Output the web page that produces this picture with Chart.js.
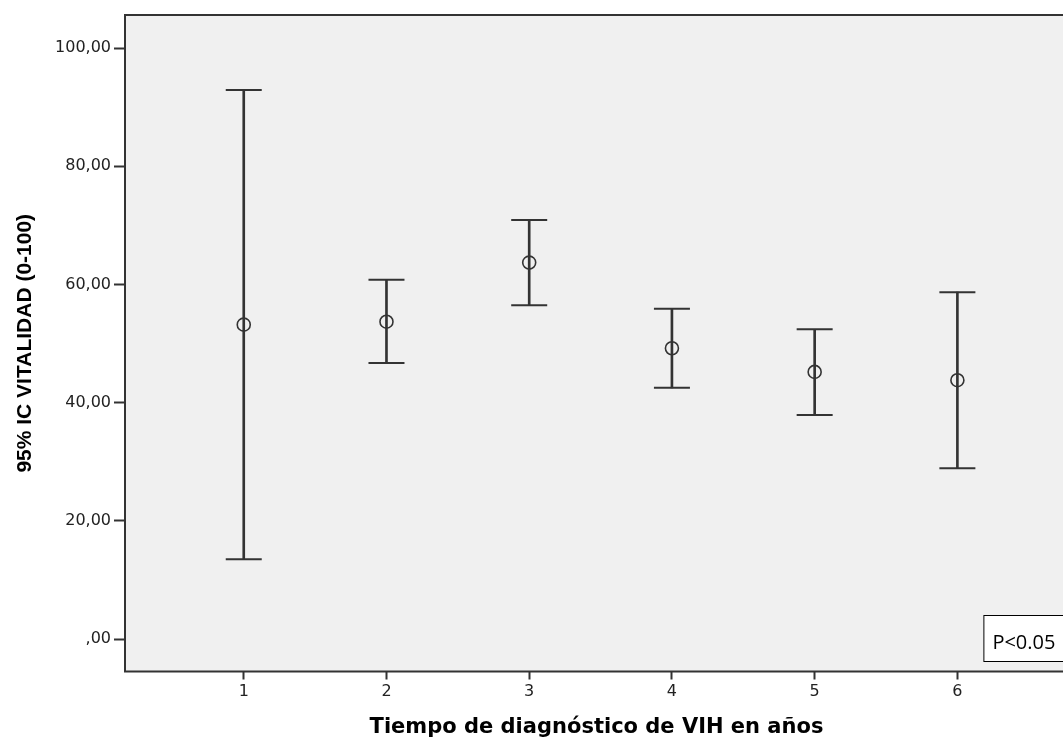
<!DOCTYPE html>
<html>
<head>
<meta charset="utf-8">
<script src="https://cdn.jsdelivr.net/npm/chart.js@4/dist/chart.umd.min.js"></script>
<style>
  html, body { margin: 0; padding: 0; background: #fff; overflow: hidden; }
  #wrap { width: 1068px; height: 738px; position: relative; }
</style>
</head>
<body>
<div id="wrap"><canvas id="chart"></canvas></div>
<script>
// Tiempo de diagnóstico (años) and 95% IC of VITALIDAD
const years = [1, 2, 3, 4, 5, 6];
const means = [53.2, 53.7, 63.7, 49.2, 45.2, 43.8];
const lower = [13.5, 46.7, 56.5, 42.5, 37.9, 28.9];
const upper = [92.9, 60.8, 70.9, 55.9, 52.4, 58.7];

const yTicks = [0, 20, 40, 60, 80, 100];
const yTickLabels = [',00', '20,00', '40,00', '60,00', '80,00', '100,00'];
const xTickLabels = ['1', '2', '3', '4', '5', '6'];

const ink = '#333333';

// no extra label padding, the plot box is fixed
const noPad = s => {
  s.paddingLeft = 0; s.paddingRight = 0; s.paddingTop = 0; s.paddingBottom = 0;
};

// grey plot area with frame (right side runs past the window edge)
const plotFrame = {
  id: 'plotFrame',
  beforeDatasetsDraw(chart) {
    const { ctx, chartArea: a } = chart;
    ctx.save();
    ctx.fillStyle = '#f0f0f0';
    ctx.fillRect(a.left, a.top, a.right - a.left, a.bottom - a.top);
    ctx.strokeStyle = ink;
    ctx.lineWidth = 2;
    ctx.strokeRect(a.left, a.top, a.right - a.left, a.bottom - a.top);
    ctx.restore();
  }
};

// "P<0.05" note box in the lower right corner
const pNote = {
  id: 'pNote',
  afterDraw(chart) {
    const { ctx, chartArea: a } = chart;
    const x = chart.scales.x.getPixelForValue(6) + 26, y = a.bottom - 56.5;
    ctx.save();
    ctx.fillStyle = '#ffffff';
    ctx.fillRect(x, y, 100, 47);
    ctx.strokeStyle = '#000';
    ctx.lineWidth = 1;
    ctx.strokeRect(x + 0.5, y + 0.5, 100, 46);
    ctx.fillStyle = '#000';
    ctx.font = '20px "Open Sans"';
    ctx.textBaseline = 'alphabetic';
    ctx.fillText('P<0.05', x + 9, y + 34);
    ctx.restore();
  }
};

new Chart(document.getElementById('chart'), {
  type: 'bar',
  data: {
    datasets: [
      {
        // whiskers
        type: 'bar',
        data: years.map((x, i) => ({ x: x, y: [lower[i], upper[i]] })),
        backgroundColor: ink,
        borderWidth: 0,
        barThickness: 2,
        order: 3
      },
      {
        // caps
        type: 'scatter',
        data: years.flatMap((x, i) => [{ x: x, y: lower[i] }, { x: x, y: upper[i] }]),
        pointStyle: 'line',
        radius: 18,
        borderWidth: 2,
        borderColor: ink,
        order: 2
      },
      {
        // means
        type: 'scatter',
        data: years.map((x, i) => ({ x: x, y: means[i] })),
        pointStyle: 'circle',
        radius: 6.5,
        borderWidth: 1.6,
        borderColor: ink,
        backgroundColor: 'rgba(0,0,0,0)',
        order: 1
      }
    ]
  },
  options: {
    responsive: true,
    maintainAspectRatio: false,
    animation: false,
    layout: { autoPadding: false, padding: { top: 15, right: 0, left: 0, bottom: 0 } },
    plugins: {
      legend: { display: false },
      tooltip: { enabled: false }
    },
    scales: {
      x: {
        type: 'linear',
        min: 0.168,
        max: 6.775,
        offset: false,
        afterBuildTicks: s => { s.ticks = years.map(v => ({ value: v })); },
        afterFit: s => { s.height = 66.5; noPad(s); },
        grid: { drawOnChartArea: false, offset: false, tickLength: 8, tickWidth: 2, tickColor: ink },
        border: { display: false },
        ticks: {
          padding: 3,
          maxRotation: 0,
          color: '#222',
          font: { family: 'DejaVu Sans', size: 16 },
          callback: (v) => xTickLabels[years.indexOf(v)]
        },
        title: {
          display: true,
          text: 'Tiempo de diagnóstico de VIH en años',
          color: '#000',
          font: { family: 'DejaVu Sans', size: 21, weight: 'bold', lineHeight: 1 },
          padding: { top: 0, bottom: 0 }
        }
      },
      y: {
        min: -5.5,
        max: 105.6,
        afterBuildTicks: s => { s.ticks = yTicks.map(v => ({ value: v })); },
        afterFit: s => { s.width = 125; noPad(s); },
        grid: { drawOnChartArea: false, tickLength: 11, tickWidth: 2, tickColor: ink },
        border: { display: false },
        ticks: {
          padding: 3,
          color: '#222',
          font: { family: 'DejaVu Sans', size: 16 },
          callback: (v) => yTickLabels[yTicks.indexOf(v)]
        },
        title: {
          display: true,
          text: '95% IC VITALIDAD (0-100)',
          color: '#000',
          font: { family: 'Liberation Sans', size: 21, weight: 'bold', lineHeight: 1 },
          padding: { top: 15, bottom: 0 }
        }
      }
    }
  },
  plugins: [plotFrame, pNote]
});
</script>
</body>
</html>
